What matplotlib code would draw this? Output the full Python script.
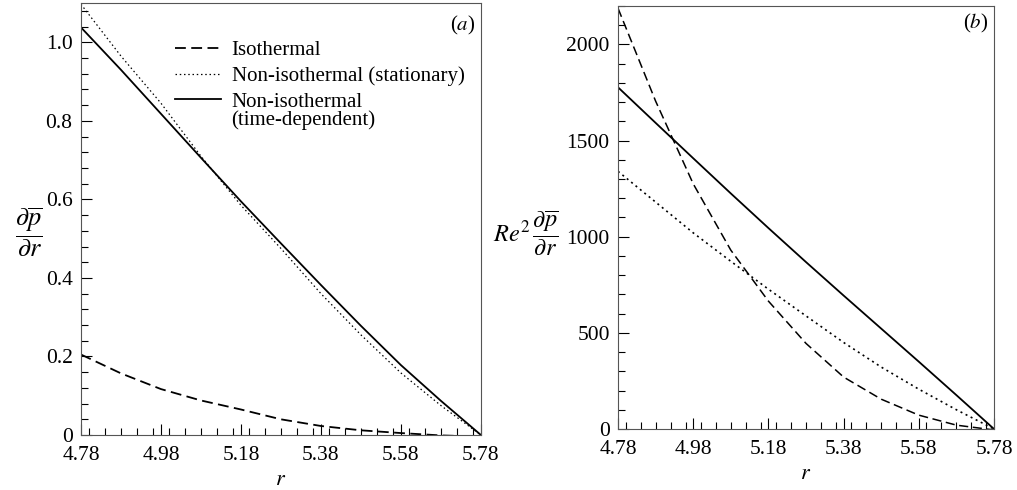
import matplotlib
matplotlib.use('Agg')
import matplotlib.pyplot as plt
from matplotlib.ticker import MultipleLocator, FuncFormatter

plt.rcParams['font.family'] = ['Liberation Serif', 'DejaVu Serif']
plt.rcParams['mathtext.fontset'] = 'stix'

# radial positions
r = [4.78, 4.88, 4.98, 5.08, 5.18, 5.28, 5.38, 5.48, 5.58, 5.68, 5.78]

# (a) dp/dr
iso_a = [0.205, 0.157, 0.117, 0.088, 0.065, 0.040, 0.023, 0.012, 0.005, -0.001, -0.004]
stat_a = [1.097, 0.965, 0.845, 0.710, 0.585, 0.475, 0.360, 0.255, 0.158, 0.075, 0.0]
time_a = [1.038, 0.930, 0.818, 0.706, 0.595, 0.488, 0.382, 0.278, 0.178, 0.087, 0.0]

# (b) Re^2 dp/dr
iso_b = [2188, 1705, 1275, 930, 665, 445, 270, 155, 72, 20, -5]
stat_b = [1340, 1180, 1020, 872, 727, 588, 450, 322, 207, 100, 0]
time_b = [1777, 1592, 1408, 1225, 1045, 868, 694, 522, 350, 176, 0]

xticks = [4.78, 4.98, 5.18, 5.38, 5.58, 5.78]

fig = plt.figure(figsize=(10.17, 4.9), dpi=100)
ax1 = fig.add_axes([0.0796, 0.1122, 0.3933, 0.8816])
ax2 = fig.add_axes([0.6077, 0.1245, 0.3697, 0.8633])


def style(ax, ymax, ymajor, yminor):
    ax.set_xlim(4.78, 5.78)
    ax.set_ylim(0, ymax)
    ax.set_xticks(xticks)
    ax.set_xticklabels(['%.2f' % t for t in xticks])
    ax.xaxis.set_minor_locator(MultipleLocator(0.04))
    ax.yaxis.set_major_locator(MultipleLocator(ymajor))
    ax.yaxis.set_minor_locator(MultipleLocator(yminor))
    ax.tick_params(which='both', direction='in', top=False, right=False,
                   labelsize=15.5, width=0.8)
    ax.tick_params(axis='x', pad=8)
    ax.tick_params(axis='y', pad=6)
    ax.tick_params(which='major', length=8)
    ax.tick_params(which='minor', length=5)
    for s in ax.spines.values():
        s.set_linewidth(0.8)
        s.set_color('#555555')
    ax.set_xlabel('$r$', fontsize=16, labelpad=4)


# panel (a)
ax1.plot(r, iso_a, color='black', lw=1.3, dashes=(6, 3), label='Isothermal')
ax1.plot(r, stat_a, color='black', lw=0.9, dashes=(1.2, 2.2), label='Non-isothermal (stationary)')
ax1.plot(r, time_a, color='black', lw=1.3, label='Non-isothermal')
style(ax1, 1.1, 0.2, 0.04)
ax1.yaxis.set_major_formatter(FuncFormatter(lambda v, p: '0' if abs(v) < 1e-9 else '%.1f' % v))
ax1.set_ylabel(r'$\dfrac{\partial\overline{p}}{\partial r}$', fontsize=19, rotation=0,
               ha='center', va='center')
ax1.yaxis.set_label_coords(-0.13, 0.47)
ax1.text(0.985, 0.975, '($a$)', transform=ax1.transAxes, ha='right', va='top', fontsize=15)
leg = ax1.legend(loc='upper left', bbox_to_anchor=(0.21, 0.938), frameon=False, fontsize=15,
                 handlelength=2.2, handletextpad=0.5, borderpad=0, labelspacing=0.3)

# second line of the last legend entry sits under its text
fig.canvas.draw()
bb = leg.get_texts()[2].get_window_extent()
fig.text(bb.x0, bb.y0 - 18, '(time-dependent)', fontsize=15, ha='left', va='bottom',
         transform=None)

# panel (b)
ax2.plot(r, iso_b, color='black', lw=1.1, dashes=(6, 3))
ax2.plot(r, stat_b, color='black', lw=1.2, dashes=(1.2, 2.2))
ax2.plot(r, time_b, color='black', lw=1.3)
style(ax2, 2200, 500, 100)
ax2.set_ylabel(r'$Re^2\,\dfrac{\partial\overline{p}}{\partial r}$', fontsize=17.5, rotation=0,
               ha='center', va='center')
ax2.yaxis.set_label_coords(-0.244, 0.463)
ax2.text(0.985, 0.985, '($b$)', transform=ax2.transAxes, ha='right', va='top', fontsize=15)

fig.savefig('out.png', dpi=100)
